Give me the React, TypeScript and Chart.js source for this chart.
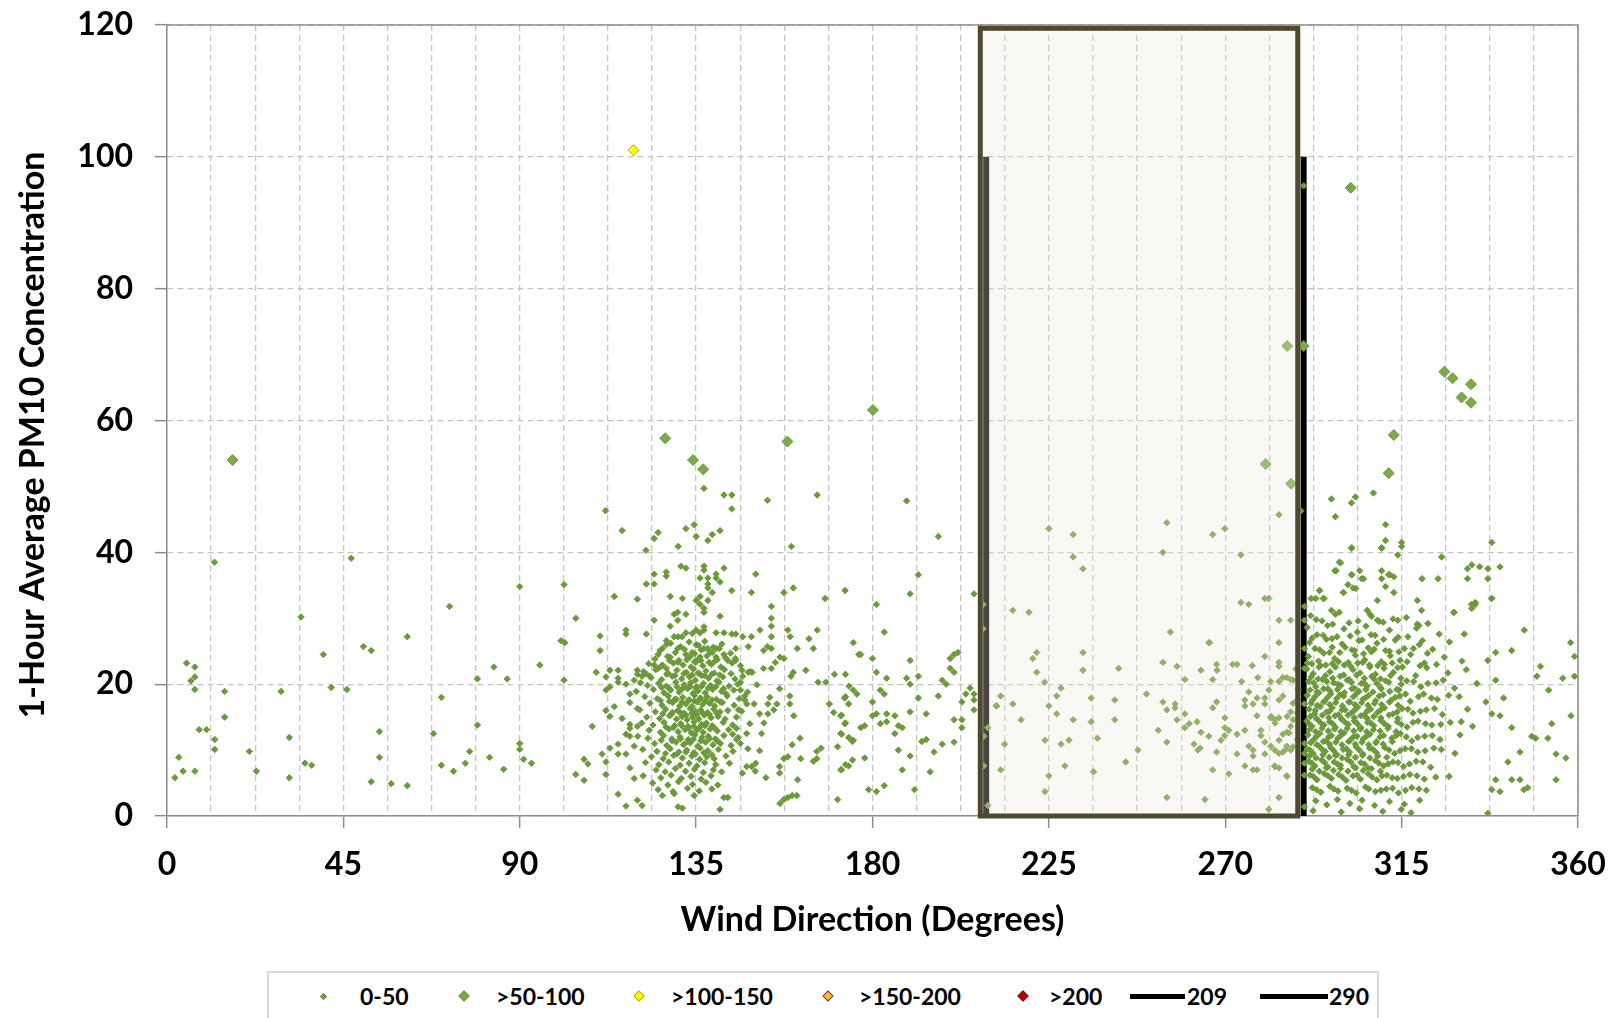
import { useEffect, useRef } from "react";
import { Chart, registerables } from "chart.js";

Chart.register(...registerables);

type P = [number, number];

// ---------- axis / labels ----------
const xTitle = "Wind Direction (Degrees)";
const yTitle = "1-Hour Average PM10 Concentration";
const xMajorStep = 45;
const xMinorStep = 11.25;
const xRange = [0, 360];
const yRange = [0, 120];
const yStep = 20;

// ---------- reference lines / sector ----------
const boundaryDirections = [209, 290];
const boundaryTop = 100;
const sectorRange = [207.5, 288.5];
const sectorTop = 119.5;

// ---------- legend ----------
const legendLabels = ["0-50", ">50-100", ">100-150", ">150-200", ">200", "209", "290"];

// ---------- data: 0-50 class ----------
const lowWest: P[] = [
  [2.0,5.8],[3.0,8.9],[4.1,6.8],[5.0,23.2],[6.1,20.5],[7.1,22.6],[7.1,21.1],[7.1,19.2],[7.1,6.8],[8.2,13.1],[10.1,13.1],[12.1,38.5],[12.2,11.6],[12.2,10.1],[14.7,18.9],[14.7,15.0],[21.0,9.8],[22.8,6.8],[29.1,18.9],[31.2,11.9],[31.2,5.8],[34.2,30.2],[35.2,8.0],[36.9,7.7],[39.9,24.5],[41.9,19.5],[45.9,19.2],[47.0,39.1],[50.1,25.7],[52.1,25.1],[52.1,5.2],[54.2,12.8],[54.2,8.9],[57.2,4.9],[61.3,27.2],[61.3,4.6],[68.0,12.5],[70.0,18.0],[70.0,7.7],[72.1,31.8],[73.1,6.8],[76.1,8.0],[77.2,9.8],[79.2,20.8],[79.2,13.8],[82.3,8.9],[83.4,22.6],[85.9,7.1],[86.8,20.8],[90.0,34.8],[90.0,11.0],[90.0,10.1],[91.0,8.6],[93.0,8.0],[95.1,22.9]
];

const lowMidWest: P[] = [
  [100.5,26.6],[101.5,26.3],[101.3,35.1],[101.3,20.6],[104.3,30.0],[104.3,6.3],[106.4,5.4],[106.4,8.6],[107.4,7.9],[108.5,13.6],[109.5,21.8],[110.5,27.3],[110.5,25.1],[111.0,9.4],[112.0,21.1],[112.0,19.1],[112.0,16.0],[112.0,8.2],[112.0,6.3],[113.0,22.1],[113.0,19.6],[113.0,15.1],[113.0,10.3],[111.9,46.3],[116.1,43.3],[114.1,33.3],[115.1,22.1],[115.1,20.9],[115.1,20.3],[115.1,10.9],[115.1,9.4],[115.1,3.3],[114.1,16.6],[116.1,14.8],[117.1,28.2],[117.1,27.6],[117.1,20.0],[117.1,12.4],[117.1,9.4],[117.1,1.5],[118.1,18.5],[118.1,17.2],[118.1,13.9],[118.1,13.3],[118.1,12.1],[118.1,7.3],[119.2,20.6],[119.2,10.6],[119.2,5.7],[120.0,32.9],[120.0,22.1],[120.0,21.5],[120.0,16.3],[120.0,13.6],[120.0,2.4]
];

const lowSouthEast: P[] = [
  [137.0,49.7],[142.1,48.7],[144.1,48.7],[144.1,46.6],[153.2,47.9],[165.9,48.7],[132.4,43.6],[134.5,44.2],[135.0,42.4],[138.0,41.8],[139.1,42.7],[141.1,43.3],[124.3,42.1],[125.3,43.0],[122.2,40.3],[130.4,40.9],[159.3,40.9],[131.1,37.9],[132.4,37.6],[137.0,37.9],[137.0,37.3],[136.0,36.1],[138.0,36.1],[138.0,35.2],[138.0,34.6],[140.1,36.7],[140.1,36.1],[141.1,35.5],[142.1,37.6],[144.1,34.2],[150.2,36.7],[149.1,33.9],[157.4,33.9],[159.8,34.6],[167.9,33.0],[173.0,34.2],[124.3,36.7],[124.3,35.2],[122.3,35.2],[127.4,37.0],[127.4,36.4],[128.4,33.3],[131.5,33.0],[135.0,32.7],[136.0,33.3],[136.0,32.1],[137.0,31.5],[137.0,30.9],[139.1,33.9],[138.0,32.7],[141.1,30.3],[130.3,30.9],[129.4,30.6],[132.4,30.6],[130.3,29.7],[128.4,28.8],[124.3,29.7],[154.2,31.8],[154.2,30.0],[154.2,28.8],[151.3,28.2],[149.1,27.2],[146.9,27.2],[144.1,27.6],[145.1,27.6],[142.1,27.8],[140.1,27.8],[137.0,28.7],[137.0,28.2],[136.0,27.8],[135.0,28.2],[134.0,27.7],[122.3,27.6],[127.4,26.6],[127.4,26.0],[129.4,27.2],[130.4,27.2],[131.4,27.2],[132.4,27.8],[158.4,28.2],[159.0,27.2],[160.8,25.4],[163.8,26.9],[165.9,28.2],[164.9,25.4],[175.1,26.3],[176.5,24.5],[154.2,27.2],[153.2,25.7],[154.2,25.4],[152.2,25.1],[148.3,25.7],[145.1,25.4],[145.1,23.6],[143.1,23.6],[142.1,24.5],[140.1,25.4],[140.1,24.1],[139.1,24.8],[138.0,25.4],[137.0,25.4],[135.0,26.0],[136.0,24.1],[134.0,24.8],[132.4,24.5],[130.3,25.4],[128.4,24.1],[126.4,25.4],[125.3,24.5],[124.3,22.9],[125.3,22.4],[126.4,22.9],[127.4,22.4],[122.2,21.6],[121.2,21.2],[123.2,21.2],[156.4,24.1],[157.4,23.9],[155.2,23.3],[152.2,22.4],[149.3,21.8],[146.9,21.2],[146.3,20.3],[148.3,21.8],[154.2,22.4],[163.0,22.1],[159.8,21.8],[166.1,20.3],[168.1,20.3],[170.3,21.5],[173.1,21.5],[175.1,19.1],[174.0,19.7],[159.2,21.2],[158.9,18.2],[158.9,17.0],[159.9,15.2],[156.3,19.3],[155.6,17.0],[154.8,16.1],[153.3,17.0],[153.3,15.5],[151.2,15.5],[152.3,14.1],[151.7,12.5],[151.2,9.9],[150.2,8.0],[149.2,7.5],[148.2,10.2],[147.9,12.5],[147.4,17.6],[147.4,18.2],[147.9,17.0],[146.3,19.1],[145.8,16.1],[145.3,13.3],[144.3,12.4],[145.3,11.6],[146.3,11.0],[146.8,6.5],[147.9,7.5],[150.1,6.8],[152.8,5.8],[156.3,7.5],[156.3,6.5],[157.4,8.7],[158.4,9.0],[159.5,10.8],[161.5,11.8],[161.7,8.7],[160.9,5.5],[165.8,8.7],[166.9,10.3],[165.8,9.8],[164.9,8.3],[169.0,17.0],[170.1,15.7],[172.1,15.3],[173.1,18.1],[173.1,14.1],[172.1,12.4],[174.1,11.8],[175.1,11.5],[171.1,10.5],[173.1,7.8],[172.1,7.0],[171.1,2.5],[160.7,3.1],[159.5,3.1],[158.4,2.8],[157.4,2.5],[156.4,1.9],[142.1,2.8],[143.1,2.8],[141.1,1.0],[134.5,3.1],[131.5,1.2],[130.4,1.4],[129.4,3.4],[126.4,3.1],[121.2,1.6]
];

const lowCore135: P[] = [
  [128.5,26.2],[131,25.7],[133.2,26.4],[135.6,25.9],[137.2,26.5],[139.4,25.6],[141.6,26.1],
  [125.8,25.1],[129.7,24.8],[132,25.3],[134.6,24.6],[136.3,25.2],[138.5,24.9],[140.9,25.4],[143.8,24.7],
  [124.5,23.8],[127.7,24.2],[130.6,23.6],[133.4,24.1],[135.4,23.7],[137.8,24.3],[139.8,23.5],[142.5,24.0],[145,23.9],
  [122.9,23.1],[126,22.7],[129.2,23.2],[131.7,22.9],[133.7,22.6],[134.9,23.3],[136.7,22.8],[138.9,23.0],[141.3,22.6],[144.2,23.2],[146.3,22.8],
  [121.6,21.9],[124.7,22.2],[127.8,21.7],[130.1,22.1],[132.5,21.8],[134.3,22.3],[135.8,21.6],[137.5,22.0],[139.6,21.7],[142.2,22.2],[143.9,21.6],[146.7,22.1],[148.9,21.9],
  [123.5,21.0],[126.2,20.7],[128.9,21.2],[131.3,20.8],[133.3,21.1],[134.8,20.6],[136.4,21.3],[138.2,20.9],[140.3,20.5],[141.8,21.1],[144.9,20.8],
  [120.8,20.2],[122.6,19.8],[125.4,20.1],[127.4,19.7],[129.8,20.3],[132,19.9],[133.6,20.2],[135.1,19.6],[136.9,20.1],[138.7,19.8],[140.8,20.3],[143.4,19.7],[145.6,20.0],[150.5,19.9],
  [119.7,18.9],[124.1,19.2],[126.8,18.7],[128.5,19.1],[130.7,18.8],[132.8,19.3],[134.2,18.6],[135.5,19.0],[137.3,18.7],[139.2,19.2],[141.5,18.9],[142.7,18.5],[144.6,19.1],[148.1,18.8],
  [121.9,18.1],[125.1,17.8],[127.9,18.2],[129.6,17.7],[131.6,18.0],[133.1,17.6],[134.6,18.3],[136.1,17.9],[137.8,18.1],[140.2,17.7],[142.9,18.2],[146,17.8],[153.8,18.0],
  [123.2,17.1],[126.3,16.8],[129,17.2],[130.8,16.7],[132.4,17.0],[133.9,16.6],[135.3,17.3],[136.6,16.9],[138.4,17.1],[139.7,16.7],[141.7,17.2],[144.7,16.8],[149.8,17.0],
  [120.6,16.1],[124.6,15.8],[127.2,16.2],[128.9,15.7],[130.3,16.0],[131.9,15.6],[133.5,16.3],[134.8,15.9],[136.2,16.1],[137.9,15.7],[139.5,16.2],[141.1,15.8],[143.1,16.0],[146.6,15.9],
  [122.4,15.0],[125.7,14.8],[128.2,15.2],[130,14.7],[131.4,15.1],[132.7,14.6],[134.1,15.0],[135.7,14.7],[137.1,15.3],[138.8,14.9],[140.6,15.1],[142.4,14.7],[145.3,15.0],
  [121.1,14.1],[124,13.8],[126.8,14.2],[129.5,13.7],[131.1,14.0],[132.9,13.6],[134.5,14.3],[136.4,13.9],[137.6,14.1],[139.1,13.7],[141.9,14.2],[144.3,13.8],[148.7,14.0],
  [123,13.0],[125.9,12.7],[128.1,13.2],[130.4,12.8],[132.2,13.1],[133.8,12.6],[135.2,13.0],[136.8,12.7],[138.6,13.2],[140.4,12.9],[143.3,13.1],
  [120.1,12.1],[122.7,11.8],[126.7,12.2],[128.8,11.7],[130.9,12.0],[133,11.6],[134.7,12.3],[136.5,11.9],[138.1,12.1],[139.9,11.7],[142.1,12.2],[145.7,11.9],
  [124.4,11.0],[127.5,10.7],[129.9,11.2],[131.8,10.8],[133.5,11.1],[135.4,10.6],[137.4,11.2],[139.3,10.8],[141.2,11.0],[143.9,10.7],
  [121.4,10.1],[125,9.8],[128.4,10.2],[130.6,9.7],[132.6,10.0],[134.4,9.6],[136,10.3],[138,9.9],[140.7,10.1],[144.4,9.8],
  [123.6,9.0],[126.6,8.7],[129.3,9.2],[131.5,8.8],[133.9,9.1],[135.9,8.6],[137.7,9.0],[139.6,8.7],[142.6,9.1],
  [122.1,8.1],[125.5,7.8],[128,8.2],[130.9,7.7],[133.2,8.0],[135.2,7.6],[137.2,8.1],[140,7.8],[143.5,8.0],
  [124.8,7.0],[127.1,6.7],[129.7,7.2],[132.3,6.8],[134.6,7.1],[136.8,6.6],[139.4,7.0],[141.5,6.7],
  [121.5,6.1],[126,5.8],[128.6,6.2],[131.2,5.7],[133.7,6.0],[136.3,5.6],[138.8,6.1],
  [123.9,5.0],[127.8,4.7],[130.5,5.2],[134.1,4.8],[137.5,5.1],[140.5,4.7],
  [125.3,4.0],[129.1,3.7],[132.8,4.2],[135.8,3.8],[139,4.1],
  [128.2,23.6],[130.4,23.3],[132.6,23.7],[134.6,23.4],[136.2,23.6],[138.3,23.3],[140.4,23.7],
  [127.5,21.5],[129.6,21.3],[131.9,21.6],[134,21.4],[135.5,21.7],[137.1,21.3],[139,21.5],[141,21.4],
  [126.2,19.5],[128.1,19.4],[130.1,19.6],[131.5,19.3],[133.4,19.6],[134.9,19.4],[136.4,19.7],[138.1,19.4],[140,19.6],[142,19.3],
  [125.9,17.5],[128.2,17.4],[130,17.7],[131.4,17.3],[133.3,17.6],[134.5,17.4],[135.9,17.7],[137.3,17.4],[139,17.6],[141.2,17.3],
  [126.5,15.5],[128.7,15.4],[130.9,15.7],[132.4,15.3],[133.9,15.6],[135.2,15.4],[136.6,15.7],[138.4,15.4],[140.3,15.6],
  [127.3,13.5],[129.2,13.4],[131.3,13.7],[133,13.3],[134.4,13.6],[135.9,13.4],[137.3,13.7],[139.6,13.4],
  [126.1,11.5],[128.9,11.4],[131,11.7],[132.8,11.3],[134.2,11.6],[136.2,11.4],[138.4,11.7],[140.4,11.4],
  [127.2,9.5],[130.1,9.4],[132.4,9.7],[134.8,9.4],[137,9.6],[139,9.3]
];

const lowSouth: P[] = [
  [188.7,47.8],[196.8,42.4],[191.7,36.6],[189.6,33.7],[181.0,32.1],[205.9,33.7],[208.2,32.1],[208.2,28.4],[183.0,27.9],[177.0,24.5],[180.0,23.9],[189.6,23.6],[181.0,21.8],[183.6,20.9],[188.7,20.9],[189.6,20.0],[191.7,21.2],[199.8,23.9],[200.8,24.5],[201.8,24.8],[199.8,22.4],[200.8,21.8],[197.8,20.6],[198.8,20.0],[176.0,18.5],[172.9,17.9],[173.9,17.0],[182.0,19.1],[183.0,18.5],[180.0,17.3],[191.7,17.9],[196.8,18.2],[202.8,17.3],[203.8,18.5],[204.9,19.4],[205.9,18.5],[205.9,17.6],[205.9,16.1],[171.9,15.2],[172.9,14.0],[180.0,15.2],[181.0,15.5],[183.6,15.5],[185.7,15.2],[182.0,14.0],[183.6,14.3],[186.6,13.7],[187.6,13.4],[185.7,12.5],[189.6,15.8],[193.7,15.5],[200.8,14.6],[202.8,14.6],[202.8,13.4],[171.9,12.5],[173.9,11.9],[174.9,11.3],[177.0,13.4],[178.0,13.7],[174.9,8.5],[173.9,7.6],[171.9,7.0],[178.0,8.8],[186.6,10.0],[189.6,9.1],[192.6,11.3],[193.7,11.6],[195.7,9.7],[197.8,10.9],[200.8,11.2],[187.6,7.0],[194.7,6.7],[179.0,4.0],[181.0,3.7],[183.0,4.6],[190.7,4.0],[208.4,12.1],[209.4,13.4],[208.4,7.6],[209.4,1.6],[211.5,16.7]
];

const lowSector: P[] = [
  [225.0,43.6],[231.2,42.7],[231.2,39.3],[233.7,37.5],[255.1,44.5],[254.1,40.0],[266.8,42.7],[269.9,43.6],[283.7,45.7],[274.0,39.6],[215.8,31.2],[219.9,30.9],[274.0,32.4],[276.0,32.1],[280.1,33.0],[281.1,33.0],[283.7,29.7],[286.7,29.7],[283.7,26.3],[256.0,27.9],[265.8,26.3],[221.9,24.8],[220.9,23.9],[221.9,21.8],[233.7,24.8],[233.7,22.1],[242.8,22.4],[254.1,23.3],[257.7,22.7],[263.8,22.1],[267.8,23.0],[273.0,23.0],[280.1,24.2],[283.7,23.3],[283.7,22.7],[278.3,21.0],[274.2,20.4],[266.8,20.7],[259.7,20.7],[281.6,20.4],[283.7,20.4],[284.7,21.0],[285.7,21.0],[286.7,20.7],[223.9,20.3],[212.7,18.2],[211.7,16.7],[215.8,17.0],[217.9,14.6],[225.0,16.7],[227.0,18.2],[228.1,19.4],[227.0,15.5],[231.2,14.6],[235.8,17.9],[235.8,14.3],[241.8,17.6],[241.8,14.6],[249.9,18.5],[254.1,17.3],[255.1,16.1],[257.2,17.0],[257.2,16.4],[257.7,14.6],[259.7,15.5],[259.7,13.4],[260.8,14.0],[262.8,14.3],[263.8,12.7],[265.8,12.1],[266.8,16.4],[267.8,17.3],[269.9,14.9],[269.9,13.4],[270.9,13.0],[268.9,11.5],[269.9,12.2],[273.0,12.4],[275.0,13.0],[276.0,18.8],[275.0,17.6],[275.0,16.7],[277.1,17.0],[278.1,17.9],[280.1,17.9],[280.1,17.0],[278.1,15.2],[279.1,13.0],[279.1,12.2],[280.1,11.2],[281.1,19.1],[283.7,17.6],[284.7,18.2],[281.6,14.9],[283.7,14.9],[282.6,14.6],[286.7,15.8],[284.7,12.4],[285.7,12.7],[286.7,13.6],[281.6,10.6],[282.6,10.0],[283.7,11.5],[284.7,9.7],[285.7,10.6],[286.7,10.0],[282.6,7.6],[283.7,7.3],[285.7,6.1],[276.0,10.6],[277.1,10.0],[277.1,9.1],[273.0,9.4],[275.0,7.6],[277.1,7.0],[278.1,7.0],[280.1,9.4],[270.9,6.4],[266.8,7.0],[267.8,9.7],[262.0,10.9],[263.0,10.0],[263.6,10.3],[252.9,13.0],[255.1,11.2],[247.7,10.0],[244.6,8.2],[236.4,6.7],[237.4,11.8],[229.1,7.6],[230.1,11.5],[228.1,10.9],[224.0,11.5],[225.0,6.1],[224.0,3.7],[213.7,10.9],[212.7,7.0],[255.1,2.8],[264.8,2.5],[283.7,2.8],[281.1,1.0],
  [266.0,26.3],[276.9,22.8],[271.9,23.0],[267.9,22.1],[287.3,20.6],[287.3,17.1],[288.4,17.6],[288.4,15.6],[287.3,14.6],[285.8,15.1],[281.7,15.1],[282.7,14.1],[286.3,12.6],[288.4,11.6],[287.3,10.5],[285.3,10.0],[283.7,9.5],[282.7,7.5],[285.8,6.0],[289.3,46.3],[288.0,22.3],[288.6,19.2]
];

const lowLine290: P[] = [
  [290.2,31.8],[290.2,29.7],[290.2,25.4],[290.2,22.4],[290.2,17.0],[290.2,11.0],[290.2,9.5],[290.2,8.0],[290.2,6.2],[290.2,1.4],[290.0,95.6]
];

const lowCore300: P[] = [
  [291.8,30.4],[294.7,29.6],[299.1,30.9],[301.6,29.3],[306.9,30.6],[309.3,29.5],[316.2,30.1],[321.7,29.2],
  [290.9,28.6],[293.4,27.5],[296.1,28.9],[298.5,27.2],[300.3,28.4],[303.7,27.9],[305.9,28.8],[308.2,27.4],[311.9,28.2],[314.1,27.1],[318.8,28.5],[324.6,27.6],
  [291.5,26.3],[292.9,25.4],[295.8,26.8],[297.3,25.6],[299.8,26.1],[302.3,25.2],[304.1,26.6],[306.5,25.5],[308.7,26.2],[310.9,25.1],[313.4,26.7],[315.7,25.4],[319.5,26.0],[322.9,25.3],[327.2,26.4],
  [291.2,24.2],[293.8,23.5],[295.1,24.7],[297.9,23.9],[299.2,24.8],[301.4,23.3],[303.2,24.4],[305.6,23.7],[307.3,24.9],[309.8,23.4],[312.1,24.3],[314.6,23.6],[317.3,24.5],[320.8,23.2],[325.9,24.1],[330.4,23.5],
  [290.8,22.3],[292.4,21.6],[294.3,22.8],[296.7,21.9],[298.1,22.6],[300.2,21.4],[302.6,22.2],[304.4,21.7],[306.8,22.9],[308.3,21.5],[310.5,22.4],[312.9,21.8],[315.2,22.6],[318.6,21.3],[321.4,22.5],[326.8,21.7],[331.5,22.2],
  [291.3,20.4],[293.1,19.6],[294.8,20.7],[296.2,19.3],[297.7,20.2],[299.5,19.8],[301.1,20.6],[302.9,19.4],[304.7,20.1],[306.2,19.7],[307.9,20.8],[309.6,19.5],[311.7,20.3],[313.8,19.2],[316.3,20.5],[319.9,19.6],[323.8,20.2],[328.5,19.4],[334.2,20.1],
  [290.9,18.3],[292.3,17.6],[293.9,18.7],[295.4,17.4],[296.9,18.5],[298.4,17.8],[300.2,18.2],[301.8,17.3],[303.5,18.6],[305.1,17.7],[306.6,18.3],[308.4,17.5],[310.3,18.4],[312.4,17.6],[314.5,18.2],[317.2,17.4],[320.6,18.5],[324.1,17.7],[329.7,18.1],
  [291.4,16.2],[292.8,15.5],[294.2,16.6],[295.9,15.8],[297.3,16.4],[298.9,15.4],[300.6,16.1],[302.1,15.6],[303.8,16.5],[305.4,15.3],[307.1,16.2],[308.8,15.7],[310.6,16.4],[312.8,15.5],[315.1,16.3],[317.9,15.6],[321.3,16.1],[325.4,15.4],[331.8,16.2],
  [290.8,14.4],[292.1,13.6],[293.6,14.6],[295.2,13.8],[296.6,14.3],[298.1,13.5],[299.7,14.7],[301.4,13.9],[302.9,14.4],[304.6,13.4],[306.3,14.2],[307.9,13.7],[309.7,14.5],[311.6,13.6],[313.9,14.3],[316.4,13.5],[319.2,14.4],[322.7,13.8],[327.4,14.2],[333.1,13.6],
  [291.1,12.3],[292.6,11.6],[294.1,12.5],[295.7,11.4],[297.1,12.2],[298.7,11.8],[300.3,12.6],[301.9,11.5],[303.6,12.1],[305.2,11.7],[306.9,12.4],[308.6,11.3],[310.4,12.2],[312.5,11.8],[314.7,12.5],[317.6,11.4],[320.9,12.1],[324.8,11.6],[329.9,12.3],
  [290.9,10.2],[292.4,9.5],[293.9,10.6],[295.5,9.8],[296.9,10.4],[298.5,9.3],[300.1,10.1],[301.7,9.7],[303.4,10.5],[305.1,9.4],[306.8,10.3],[308.6,9.6],[310.7,10.4],[313.2,9.5],[315.9,10.2],[319.1,9.7],[323.2,10.3],[328.6,9.5],
  [291.3,8.3],[292.9,7.6],[294.6,8.5],[296.2,7.4],[297.8,8.2],[299.4,7.7],[301.1,8.6],[302.8,7.5],[304.6,8.1],[306.4,7.3],[308.3,8.4],[310.4,7.6],[312.8,8.2],[315.5,7.5],[318.7,8.3],[322.4,7.4],
  [291.6,6.2],[293.4,5.5],[295.3,6.4],[297.1,5.7],[298.9,6.3],[300.8,5.4],[302.6,6.1],[304.5,5.6],[306.5,6.4],[308.7,5.5],[311.2,6.2],[313.9,5.7],[317.1,6.3],[320.8,5.6],[327.1,6.0],
  [292.2,4.3],[294.4,3.6],[296.7,4.5],[298.8,3.8],[301.1,4.2],[303.4,3.5],[305.8,4.4],[308.3,3.7],[311.1,4.1],[314.2,3.5],[317.6,4.3],[321.3,3.9],
  [293.1,2.3],[295.9,1.7],[298.6,2.5],[301.8,1.9],[304.9,2.4],[308.1,1.6],[311.9,2.2],[315.7,1.8],[319.6,2.4],
  [292.4,0.8],[299.6,0.6],[304.3,1.1],[310.2,0.7],[314.9,1.0],[317.4,0.5],
  [292.1,23.1],[295.6,22.9],[298.9,23.4],[302.0,22.7],[305.1,23.3],[308.9,22.8],[312.6,23.2],
  [291.9,21.1],[293.7,20.8],[295.6,21.3],[297.4,20.9],[299.3,21.2],[301.6,20.7],[303.5,21.4],[305.5,20.9],[307.4,21.2],[309.6,20.8],[312.2,21.3],[314.8,20.9],
  [291.6,19.1],[293.4,18.8],[295.1,19.3],[296.8,18.9],[298.6,19.2],[300.4,18.7],[302.3,19.3],[304.1,18.9],[305.9,19.2],[307.7,18.8],[309.8,19.3],[312.0,18.9],[314.3,19.1],
  [291.9,17.1],[293.5,16.8],[295.1,17.3],[296.7,16.9],[298.2,17.2],[299.9,16.7],[301.5,17.3],[303.1,16.9],[304.8,17.2],[306.4,16.8],[308.1,17.1],[309.9,16.9],[311.9,17.3],[314.1,16.8],
  [291.7,15.1],[293.3,14.8],[294.8,15.3],[296.4,14.9],[298.0,15.2],[299.6,14.8],[301.3,15.3],[302.9,14.9],[304.6,15.2],[306.2,14.8],[307.9,15.1],[309.7,14.9],[311.8,15.3],[314.0,14.8],
  [291.5,13.1],[293.1,12.8],[294.7,13.3],[296.3,12.9],[297.9,13.2],[299.5,12.8],[301.1,13.3],[302.8,12.9],[304.5,13.2],[306.1,12.8],[307.8,13.1],[309.5,12.9],[311.5,13.3],[313.6,12.8],
  [291.8,11.1],[293.4,10.8],[295.0,11.3],[296.6,10.9],[298.2,11.2],[299.8,10.8],[301.5,11.3],[303.2,10.9],[304.9,11.2],[306.6,10.8],[308.4,11.1],[310.3,10.9],[312.6,11.3],
  [291.5,9.1],[293.2,8.8],[294.9,9.3],[296.5,8.9],[298.1,9.2],[299.8,8.8],[301.5,9.3],[303.2,8.9],[305.0,9.2],[306.9,8.8],[308.9,9.1],[311.2,8.9],
  [292.2,7.1],[294.0,6.8],[295.8,7.3],[297.6,6.9],[299.4,7.2],[301.3,6.8],[303.2,7.3],[305.2,6.9],[307.3,7.2],[309.6,6.8]
];

const lowCore300Fill: P[] = [
  [293.2,29.8],[297.4,29.1],[303.9,29.6],[312.8,29.9],[319.4,28.9],
  [292.2,27.0],[295.0,27.4],[297.2,26.9],[301.9,27.3],[304.9,26.7],[307.2,27.5],[310.4,26.8],[316.6,27.2],[320.3,26.6],
  [294.1,25.2],[296.6,24.8],[300.6,25.6],[303.0,25.1],[305.3,24.6],[308.0,25.3],[311.9,25.0],[314.3,24.9],[318.0,25.4],[321.6,24.7],
  [290.9,23.2],[293.9,22.6],[297.3,23.1],[300.4,22.9],[303.8,23.2],[306.9,22.6],[310.6,23.0],[314.0,22.5],[316.4,23.4],[319.7,22.8],[323.9,23.0],
  [292.6,20.2],[295.9,20.4],[298.7,20.0],[302.2,20.3],[305.4,20.2],[308.7,20.1],[310.9,20.5],[314.9,20.0],[318.1,20.4],[321.7,20.1],[325.6,20.6],
  [292.9,18.1],[296.1,18.0],[299.3,18.4],[302.7,18.1],[305.9,18.0],[309.3,18.2],[313.4,18.0],[316.0,18.5],[319.3,18.1],[322.6,17.9],[327.0,18.3],
  [293.0,16.0],[296.6,15.9],[299.8,16.1],[302.9,16.0],[306.2,15.9],[309.7,16.1],[313.9,15.8],[316.6,16.2],[319.8,15.9],[323.4,16.3],
  [291.4,14.0],[294.4,14.1],[297.4,14.0],[300.6,14.2],[303.7,14.0],[307.1,14.1],[310.6,14.0],[314.9,13.9],[317.9,14.2],[321.1,14.0],[325.0,13.9],[330.2,14.3],
  [293.3,12.1],[296.4,12.0],[299.5,12.2],[302.7,12.0],[306.0,12.1],[309.5,12.0],[313.6,12.2],[316.2,12.0],[319.1,11.9],[322.8,12.2],
  [291.6,10.0],[294.7,10.1],[297.7,9.9],[300.9,10.2],[304.2,10.0],[307.7,10.1],[311.8,10.0],[314.6,9.9],[317.5,10.2],[321.0,9.9],[325.1,10.1],
  [292.1,8.0],[295.4,8.1],[298.6,7.9],[302.0,8.2],[305.5,7.9],[309.2,8.0],[311.6,7.9],[314.1,8.1],[317.0,7.9],[320.4,8.2],
  [292.5,6.0],[296.2,6.1],[299.9,5.9],[303.6,6.2],[307.5,5.9],[310.0,6.1],[312.6,5.8],[315.5,6.0],[318.9,6.1],[323.7,5.9],
  [293.3,4.0],[297.7,4.1],[302.2,3.9],[306.6,4.1],[309.7,3.9],[312.7,4.2],[316.0,3.9],[319.4,4.1]
];

const lowEastFringe: P[] = [
  [297.1,48.1],[298.1,45.4],[302.2,47.5],[303.2,48.4],[307.8,49.0],[310.9,44.2],[310.9,41.8],[309.9,40.6],[315.0,41.5],[315.0,40.9],[314.0,39.6],[302.2,40.6],[338.0,41.5],[325.2,39.3],[332.9,38.1],[337.0,37.5],[337.0,36.0],[340.1,37.8],[338.0,33.0],[333.8,32.1],[332.9,31.5],[328.4,30.9],[299.1,38.5],[298.0,37.2],[302.2,36.6],[304.3,37.2],[305.3,36.0],[309.9,37.2],[312.0,36.6],[313.0,36.3],[309.9,36.0],[320.2,36.0],[324.3,36.0],[310.9,34.8],[313.0,33.9],[300.1,33.9],[302.6,34.6],[294.0,34.2],[291.9,33.0],[295.0,33.0],[308.8,32.7],[319.0,32.7],[320.1,31.2],[297.1,31.2],[298.1,30.6],[306.2,31.2],[307.3,30.3],[308.8,29.7],[310.3,29.4],[314.0,29.7],[319.0,29.1],[331.0,27.6],[346.3,28.2],[358.1,26.3],[359.1,24.2],[359.1,21.2],[358.2,15.2],[350.4,22.7],[352.5,19.1],[349.5,21.2],[356.1,20.9],[343.1,25.1],[341.0,17.9],[343.1,13.4],[348.2,12.1],[349.2,11.8],[352.3,11.8],[353.3,14.0],[354.4,9.4],[356.9,8.8],[354.4,5.5],[345.2,9.7],[342.1,8.2],[347.2,4.3],[346.2,4.0],[343.1,5.5],[345.2,5.5],[339.0,5.5],[338.0,4.0],[340.1,3.7],[337.0,0.4],[339.0,20.6],[337.0,23.6],[339.0,24.8],[336.5,17.3],[338.0,15.5],[340.1,15.2],[298.3,37.2],[299.4,38.4],[302.3,36.6],[304.8,36.0],[311.7,36.6],[301.3,35.1],[300.2,33.9],[303.3,34.5],[294.1,34.2],[295.2,33.0],[293.1,33.0],[328.3,30.9],[332.8,32.1],[333.8,32.4],[337.9,33.0],[302.3,40.7],[309.9,40.7],[331.8,37.5],[331.8,36.0],[334.9,37.8]
];

// ---------- data: >50-100 and >100-150 ----------
const moderatePoints: P[] = [
  [16.7,54.0],[127.1,57.3],[134.2,54.0],[136.8,52.6],[158.3,56.8],[180.1,61.6],[285.8,71.3],[280.3,53.4],[286.8,50.4],[290.0,71.3],[302.0,95.3],[325.9,67.4],[328.0,66.4],[332.7,65.5],[330.3,63.5],[332.7,62.7],[313.0,57.8],[311.7,52.0]
];
const highPoints: P[] = [[119.0,101.0]];
const veryHighPoints: P[] = [];
const extremePoints: P[] = [];

const lowPoints: P[] = [
  ...lowWest, ...lowMidWest, ...lowSouthEast, ...lowCore135, ...lowSouth,
  ...lowSector, ...lowLine290, ...lowCore300, ...lowCore300Fill, ...lowEastFringe,
];

const toXY = (arr: P[]) => arr.map(([x, y]) => ({ x, y }));

const FONT = "Lato, 'Open Sans', 'DejaVu Sans', sans-serif";

const sectorPlugin = {
  id: "sectorBox",
  beforeDatasetsDraw(chart: any) {
    const { ctx, chartArea: a } = chart;
    ctx.save();
    ctx.strokeStyle = "#8c8c8c";
    ctx.lineWidth = 1.5;
    ctx.beginPath();
    ctx.moveTo(a.left, a.top);
    ctx.lineTo(a.right, a.top);
    ctx.lineTo(a.right, a.bottom);
    ctx.stroke();
    ctx.restore();
  },
  afterDatasetsDraw(chart: any) {
    const { ctx } = chart;
    const xs = chart.scales.x;
    const ys = chart.scales.y;
    const l = xs.getPixelForValue(sectorRange[0]);
    const r = xs.getPixelForValue(sectorRange[1]);
    const t = ys.getPixelForValue(sectorTop);
    const b = ys.getPixelForValue(0);
    ctx.save();
    ctx.fillStyle = "rgba(236,232,220,0.3)";
    ctx.fillRect(l, t, r - l, b - t);
    ctx.strokeStyle = "#4f4930";
    ctx.lineWidth = 5;
    ctx.strokeRect(l, t, r - l, b - t);
    ctx.restore();
  },
};

const yTitlePlugin = {
  id: "yTitleText",
  afterDraw(chart: any) {
    const { ctx } = chart;
    ctx.save();
    ctx.translate(33, 435);
    ctx.rotate(-Math.PI / 2);
    ctx.font = `bold 34px ${FONT}`;
    ctx.fillStyle = "#000000";
    ctx.textAlign = "center";
    ctx.textBaseline = "middle";
    ctx.fillText(yTitle, 0, 0);
    ctx.restore();
  },
};

export default function App() {
  const ref = useRef<HTMLCanvasElement | null>(null);

  useEffect(() => {
    if (!ref.current) return;
    const tickFont = { family: FONT, size: 32, weight: "bold" as const };
    const chart = new Chart(ref.current, {
      type: "scatter",
      data: {
        datasets: [
          {
            label: legendLabels[0],
            data: toXY(lowPoints),
            pointStyle: "rectRot",
            pointRadius: 3.2,
            backgroundColor: "#6b9a3a",
            borderColor: "#6b9a3a",
            borderWidth: 1,
          },
          {
            label: legendLabels[1],
            data: toXY(moderatePoints),
            pointStyle: "rectRot",
            pointRadius: 5.5,
            backgroundColor: "#7aab48",
            borderColor: "#6b9a3a",
            borderWidth: 1,
          },
          {
            label: legendLabels[2],
            data: toXY(highPoints),
            pointStyle: "rectRot",
            pointRadius: 5.5,
            backgroundColor: "#ffff00",
            borderColor: "#c9a400",
            borderWidth: 1,
          },
          {
            label: legendLabels[3],
            data: toXY(veryHighPoints),
            pointStyle: "rectRot",
            pointRadius: 5.5,
            backgroundColor: "#ffc000",
            borderColor: "#7030a0",
            borderWidth: 1,
          },
          {
            label: legendLabels[4],
            data: toXY(extremePoints),
            pointStyle: "rectRot",
            pointRadius: 5.5,
            backgroundColor: "#c00000",
            borderColor: "#7f1010",
            borderWidth: 1,
          },
          {
            type: "line",
            label: legendLabels[5],
            data: [
              { x: boundaryDirections[0], y: 0 },
              { x: boundaryDirections[0], y: boundaryTop },
            ],
            borderColor: "#000000",
            borderWidth: 6,
            pointRadius: 0,
            showLine: true,
          } as any,
          {
            type: "line",
            label: legendLabels[6],
            data: [
              { x: boundaryDirections[1], y: 0 },
              { x: boundaryDirections[1], y: boundaryTop },
            ],
            borderColor: "#000000",
            borderWidth: 6,
            pointRadius: 0,
            showLine: true,
          } as any,
        ],
      },
      options: {
        animation: false,
        responsive: true,
        maintainAspectRatio: false,
        events: [],
        layout: { padding: { left: 0, top: 25, right: 34, bottom: 0 } },
        plugins: {
          legend: { display: false },
          tooltip: { enabled: false },
        },
        scales: {
          x: {
            type: "linear",
            min: xRange[0],
            max: xRange[1],
            afterFit: (s: any) => {
              s.height = 202;
              s.paddingLeft = 0;
              s.paddingRight = 0;
            },
            ticks: {
              stepSize: xMinorStep,
              autoSkip: false,
              maxRotation: 0,
              minRotation: 0,
              padding: 17,
              color: "#000000",
              font: tickFont,
              callback: (v: any) => (Number(v) % xMajorStep === 0 ? String(v) : ""),
            },
            grid: {
              color: "#c4c4c4",
              lineWidth: 1.3,
              tickLength: 12,
              tickWidth: 1.5,
              tickBorderDash: [],
              tickColor: (c: any) =>
                c.tick && Number(c.tick.value) % xMajorStep === 0 ? "#8c8c8c" : "rgba(0,0,0,0)",
            } as any,
            border: { display: true, color: "#8c8c8c", width: 1.5, dash: [6, 4] } as any,
            title: {
              display: true,
              text: xTitle,
              color: "#000000",
              font: { family: FONT, size: 34, weight: "bold" },
              padding: { top: 0, bottom: 78 },
            },
          },
          y: {
            type: "linear",
            min: yRange[0],
            max: yRange[1],
            afterFit: (s: any) => {
              s.width = 167;
              s.paddingTop = 0;
              s.paddingBottom = 0;
            },
            ticks: {
              stepSize: yStep,
              padding: 22,
              color: "#000000",
              font: tickFont,
            },
            grid: {
              color: "#c4c4c4",
              lineWidth: 1.3,
              tickLength: 12,
              tickWidth: 1.5,
              tickBorderDash: [],
              tickColor: "#8c8c8c",
            } as any,
            border: { display: true, color: "#8c8c8c", width: 1.5, dash: [6, 4] } as any,
            title: { display: false, text: yTitle },
          },
        },
      },
      plugins: [sectorPlugin, yTitlePlugin],
    } as any);
    return () => chart.destroy();
  }, []);

  const markerX = [323, 464, 639, 828, 1023];
  const textX = [360, 496, 671, 859, 1049, 1187, 1329];
  const lineX: [number, number][] = [[1130, 1185], [1260, 1328]];
  const markerStyles = [
    { size: 5, bg: "#6b9a3a", border: "#6b9a3a" },
    { size: 8, bg: "#7aab48", border: "#6b9a3a" },
    { size: 8, bg: "#ffff00", border: "#c9a400" },
    { size: 8, bg: "#ffc000", border: "#7030a0" },
    { size: 8, bg: "#c00000", border: "#7f1010" },
  ];
  const legendY = 996;

  return (
    <div
      style={{
        position: "absolute",
        left: 0,
        top: 0,
        width: 1612,
        height: 1018,
        background: "#ffffff",
        overflow: "hidden",
      }}
    >
      <canvas ref={ref} />
      <div
        style={{
          position: "absolute",
          left: 267,
          top: 971,
          width: 1112,
          height: 70,
          border: "2px solid #d9d9d9",
          boxSizing: "border-box",
          background: "#ffffff",
        }}
      />
      {markerStyles.map((m, i) => (
        <div
          key={"m" + i}
          style={{
            position: "absolute",
            left: markerX[i] - m.size / 2,
            top: legendY - m.size / 2,
            width: m.size,
            height: m.size,
            background: m.bg,
            border: `1px solid ${m.border}`,
            boxSizing: "border-box",
            transform: "rotate(45deg)",
          }}
        />
      ))}
      {lineX.map(([a, b], i) => (
        <div
          key={"l" + i}
          style={{
            position: "absolute",
            left: a,
            top: legendY - 2.5,
            width: b - a,
            height: 5,
            background: "#000000",
          }}
        />
      ))}
      {legendLabels.map((lab, i) => (
        <div
          key={"t" + i}
          style={{
            position: "absolute",
            left: textX[i],
            top: legendY - 14,
            height: 28,
            lineHeight: "28px",
            fontFamily: FONT,
            fontWeight: 700,
            fontSize: 23,
            color: "#000000",
            whiteSpace: "nowrap",
          }}
        >
          {lab}
        </div>
      ))}
    </div>
  );
}
